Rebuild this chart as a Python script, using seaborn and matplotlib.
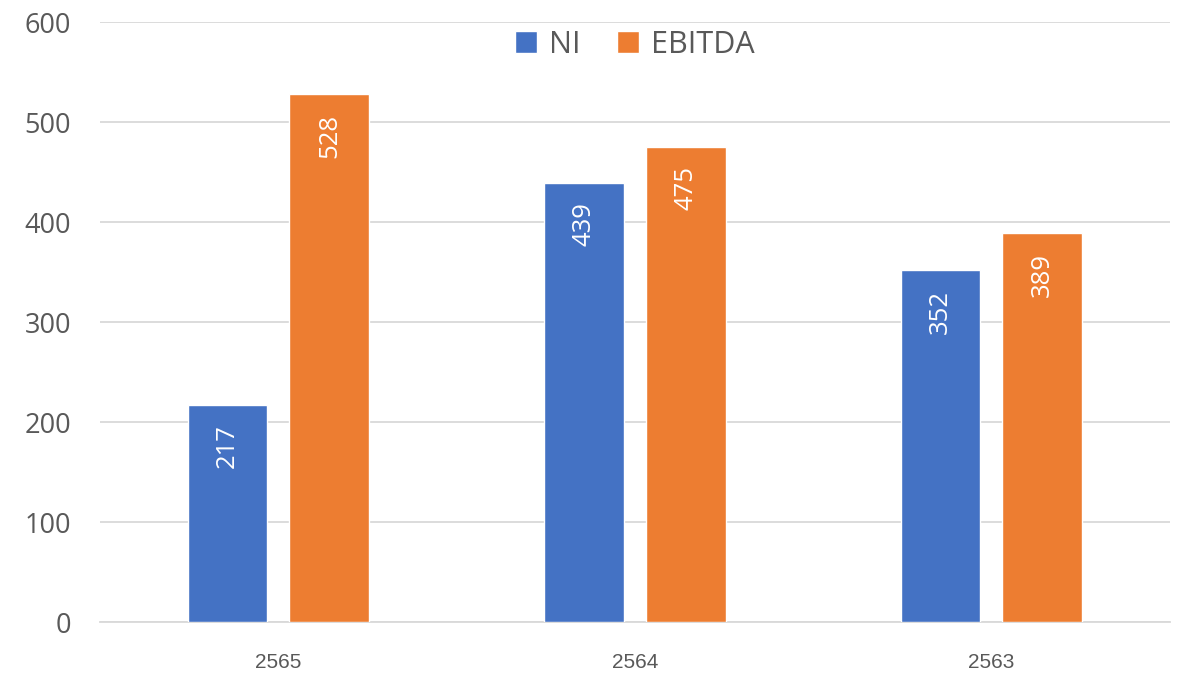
import pandas as pd
import matplotlib
matplotlib.use('Agg')
import matplotlib.pyplot as plt
import seaborn as sns

years = ['2565', '2564', '2563']
ni = [217, 439, 352]
ebitda = [528, 475, 389]
series = ['NI', 'EBITDA']
colors = ['#4472C4', '#ED7D31']

if __name__ == '__main__':
    df = pd.DataFrame({'year': years * 2,
                       'value': ni + ebitda,
                       'series': ['NI'] * 3 + ['EBITDA'] * 3})

    sns.set_style('white')
    plt.rcParams['font.family'] = ['Open Sans', 'DejaVu Sans']

    fig = plt.figure(figsize=(11.79, 6.77), dpi=100)
    ax = fig.add_axes([0.085, 0.081, 0.907, 0.8865])
    sns.barplot(ax=ax, data=df, x='year', y='value', hue='series', order=years,
                hue_order=series, palette=colors, width=0.571, gap=0.216,
                saturation=1, errorbar=None, zorder=3)

    for c in ax.containers:
        labels = ax.bar_label(c, fmt='%d', rotation=90, padding=-14, color='white', fontsize=18.5)
        for t in labels:
            t.set_va('top')

    ax.set_xlim(-0.5, 2.5)
    ax.set_ylim(0, 600)
    ax.set_yticks(range(0, 601, 100))
    ax.yaxis.grid(True, color='#d9d9d9', lw=1.3, zorder=0)
    ax.set_axisbelow(True)
    for s in ['top', 'right', 'left']:
        ax.spines[s].set_visible(False)
    ax.spines['bottom'].set_color('#d9d9d9')
    ax.spines['bottom'].set_linewidth(1.3)
    ax.tick_params(axis='y', length=0, labelsize=19.5, labelcolor='#595959', pad=21)
    ax.tick_params(axis='x', length=0, labelcolor='#595959', pad=22)
    for t in ax.get_xticklabels():
        t.set_fontfamily('Liberation Sans')
        t.set_fontsize(15)
    ax.set_xlabel('')
    ax.set_ylabel('')

    ax.legend(loc='upper center', bbox_to_anchor=(0.5, 1.0), ncol=2, frameon=False,
              fontsize=22, handlelength=0.7, handleheight=0.7, columnspacing=1.2,
              handletextpad=0.4, labelcolor='#595959', borderaxespad=-0.15)

    fig.savefig('out.png', dpi=100)
